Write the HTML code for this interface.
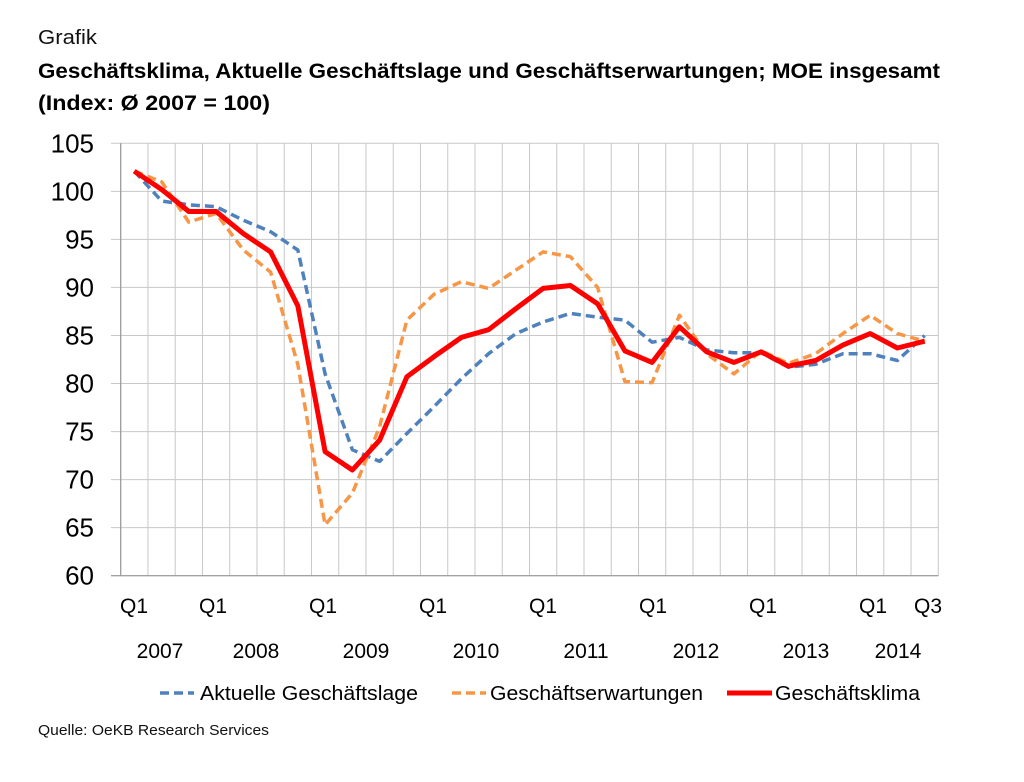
<!DOCTYPE html>
<html><head><meta charset="utf-8"><style>
html,body{margin:0;padding:0;background:#fff;}
svg{display:block;font-family:"Liberation Sans",Arial,sans-serif;}
</style></head><body>
<svg id="s" width="1024" height="782" viewBox="0 0 1024 782" xmlns="http://www.w3.org/2000/svg">
<text x="38" y="44" font-size="20" fill="#111" textLength="59" lengthAdjust="spacingAndGlyphs">Grafik</text>
<text x="38" y="78" font-size="21" font-weight="bold" fill="#000" textLength="902" lengthAdjust="spacingAndGlyphs">Geschäftsklima, Aktuelle Geschäftslage und Geschäftserwartungen; MOE insgesamt</text>
<text x="38" y="110" font-size="21" font-weight="bold" fill="#000" textLength="232" lengthAdjust="spacingAndGlyphs">(Index: Ø 2007 = 100)</text>
<g id="grid"></g>
<g id="ylab" font-size="26" fill="#000" text-anchor="end"></g>
<g font-size="21" fill="#000" text-anchor="middle">
<text x="134" y="613">Q1</text><text x="213" y="613">Q1</text><text x="323" y="613">Q1</text><text x="433" y="613">Q1</text><text x="543" y="613">Q1</text><text x="653" y="613">Q1</text><text x="763" y="613">Q1</text><text x="873" y="613">Q1</text><text x="928" y="613">Q3</text>
<text x="160" y="658">2007</text><text x="256" y="658">2008</text><text x="366" y="658">2009</text><text x="476" y="658">2010</text><text x="586" y="658">2011</text><text x="696" y="658">2012</text><text x="806" y="658">2013</text><text x="898" y="658">2014</text>
</g>
<g id="lines" fill="none" stroke-linejoin="round"></g>
<g font-size="20" fill="#000">
<line x1="160" y1="693" x2="194" y2="693" stroke="#4f81bd" stroke-width="3.5" stroke-dasharray="9,5"/>
<text x="200" y="700" textLength="218" lengthAdjust="spacingAndGlyphs">Aktuelle Geschäftslage</text>
<line x1="452" y1="693" x2="486" y2="693" stroke="#f79646" stroke-width="3.5" stroke-dasharray="9,5"/>
<text x="490" y="700" textLength="213" lengthAdjust="spacingAndGlyphs">Geschäftserwartungen</text>
<line x1="727" y1="693" x2="772" y2="693" stroke="#ff0000" stroke-width="5"/>
<text x="775" y="700" textLength="145" lengthAdjust="spacingAndGlyphs">Geschäftsklima</text>
</g>
<text x="38" y="735" font-size="15" fill="#111" textLength="231" lengthAdjust="spacingAndGlyphs">Quelle: OeKB Research Services</text>
</svg>
<script>
var NS="http://www.w3.org/2000/svg";
function el(p,t,a){var e=document.createElementNS(NS,t);for(var k in a)e.setAttribute(k,a[k]);document.getElementById(p).appendChild(e);return e;}
var L=120.7,R=938.3,T=143.3,B=575.7,dx=(R-L)/30;
function Y(v){return B-(v-60)*(B-T)/45;}
for(var i=0;i<=30;i++){var x=L+dx*i;el("grid","line",{x1:x,x2:x,y1:T,y2:B,stroke:"#c8c8c8","stroke-width":1});}
for(var v=60;v<=105;v+=5){var y=Y(v);el("grid","line",{x1:111,x2:R,y1:y,y2:y,stroke:"#c8c8c8","stroke-width":1});
var t=el("ylab","text",{x:94,y:y+9});t.textContent=v;}
el("grid","line",{x1:L,x2:L,y1:T,y2:B,stroke:"#999","stroke-width":1.2});
el("grid","line",{x1:111,x2:R,y1:B,y2:B,stroke:"#999","stroke-width":1.2});
var blue=[102.1,99.0,98.6,98.4,97.0,95.8,93.9,81.0,73.1,71.9,74.8,77.6,80.5,83.1,85.2,86.4,87.3,86.9,86.6,84.3,84.8,83.5,83.2,83.2,81.7,82.0,83.1,83.1,82.4,85.0];
var orange=[102.1,101.0,96.8,97.7,93.9,91.6,82.0,65.3,68.6,75.5,86.6,89.3,90.6,89.9,91.8,93.7,93.2,90.0,80.2,80.1,87.1,83.1,81.0,83.4,82.1,83.1,85.2,87.1,85.2,84.4];
var red=[102.1,100.2,97.9,97.9,95.6,93.7,88.1,72.9,71.0,74.1,80.7,82.8,84.8,85.6,87.8,89.9,90.2,88.3,83.4,82.2,85.9,83.3,82.2,83.3,81.8,82.4,84.0,85.2,83.7,84.4];
function pts(a){return a.map(function(v,i){return (L+dx*(i+0.5)).toFixed(1)+","+Y(v).toFixed(1);}).join(" ");}
el("lines","polyline",{points:pts(blue),stroke:"#4f81bd","stroke-width":3.5,"stroke-dasharray":"9,5"});
el("lines","polyline",{points:pts(orange),stroke:"#f79646","stroke-width":3.5,"stroke-dasharray":"9,5"});
el("lines","polyline",{points:pts(red),stroke:"#ff0000","stroke-width":5});
</script>
</body></html>
